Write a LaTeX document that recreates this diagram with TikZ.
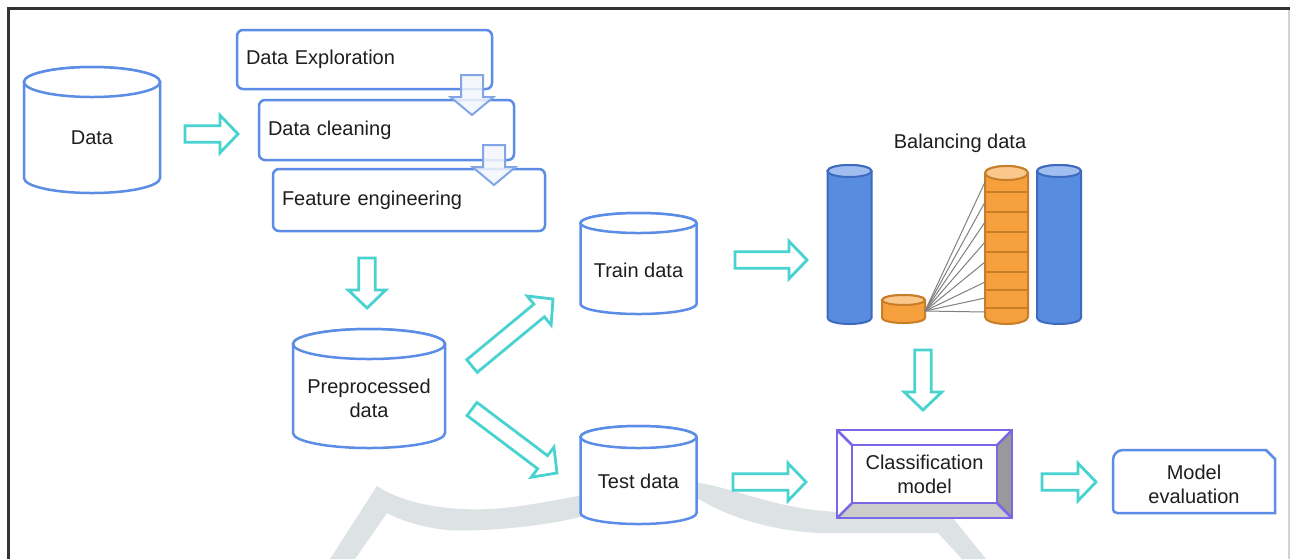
\documentclass[tikz,border=0pt]{standalone}
\usepackage{fontspec}
\setmainfont{Liberation Sans}
\usetikzlibrary{calc}
\definecolor{cylblue}{RGB}{91,141,230}
\definecolor{arrcyan}{RGB}{72,210,208}
\definecolor{wm}{RGB}{221,226,229}
\definecolor{purp}{RGB}{120,104,230}
\definecolor{bfill}{RGB}{88,140,225}
\definecolor{bdark}{RGB}{62,106,190}
\definecolor{btop}{RGB}{160,190,240}
\definecolor{ofill}{RGB}{245,160,60}
\definecolor{odark}{RGB}{200,125,40}
\definecolor{otop}{RGB}{250,200,140}
\definecolor{ltarrow}{RGB}{130,165,230}
\definecolor{ltfill}{RGB}{243,246,251}
\definecolor{txt}{RGB}{30,30,30}
\newcommand\cylshape[7]{%
  \path[#1] (#2-#5,#3) -- (#2-#5,#4) arc[start angle=180,end angle=0,x radius=#5,y radius=#6]
    -- (#2+#5,#3) arc[start angle=0,end angle=-180,x radius=#5,y radius=#6] -- cycle;
  \path[#1,fill=#7] (#2,#3) ellipse[x radius=#5,y radius=#6];
}
\newcommand\blockarr[6]{%
  \coordinate (hb) at ($(#3)!#6!(#2)$);
  \draw[#1] ($(#2)!#4!90:(#3)$) -- ($(hb)!#4!90:(#3)$) -- ($(hb)!#5!90:(#3)$) -- (#3)
    -- ($(hb)!#5!-90:(#3)$) -- ($(hb)!#4!-90:(#3)$) -- ($(#2)!#4!-90:(#3)$) -- cycle;
}
\tikzset{
  lbl/.style={font=\fontsize{10}{12}\selectfont, text=txt, align=center, inner sep=0pt},
  cylout/.style={draw=cylblue, line width=1.25pt, fill=white},
  boxn/.style={draw=cylblue, line width=1.25pt, rounded corners=3pt, fill=white,
    font=\fontsize{10}{12}\selectfont, text=txt, align=left, inner xsep=4.5pt},
  carrow/.style={draw=arrcyan, line width=1.4pt, fill=white, line join=miter},
  larrow/.style={draw=ltarrow, line width=1pt, fill=ltfill, fill opacity=0.85, line join=miter},
  bluecyl/.style={draw=bdark, line width=1pt, fill=bfill},
  orcyl/.style={draw=odark, line width=1pt, fill=ofill},
  fanline/.style={draw=gray, line width=0.5pt},
  purpline/.style={draw=purp, line width=1.25pt},
}
\begin{document}
\begin{tikzpicture}[x=0.5pt,y=-0.5pt]
\useasboundingbox (0,0) rectangle (1290,559);
\fill[white] (0,0) rectangle (1290,559);
% frame
\draw[gray!35, line width=1pt] (1289,10) -- (1289,559);
\draw[black!80, line width=1.5pt] (8,559) -- (8,8) -- (1290,8);
% watermark
\fill[wm] (330,559) -- (377,486) .. controls (405,505) and (460,515) .. (520,506)
  .. controls (600,494) and (660,476) .. (700,483) .. controls (740,490) and (780,510) .. (840,512)
  -- (948,512) -- (986,559) -- (962,559) -- (938,533) -- (820,533)
  .. controls (760,530) and (720,512) .. (697,498) .. controls (660,480) and (610,508) .. (580,517)
  .. controls (540,527) and (480,532) .. (447,530) .. controls (420,527) and (400,520) .. (387,513)
  -- (355,559) -- cycle;
% cylinders
\cylshape{cylout}{92}{82}{178}{68}{15}{white}
\node[lbl] (data) at (92,138) {Data};
\cylshape{cylout}{369}{344}{433}{76}{15}{white}
\node[lbl] (prep) at (369,398) {Preprocessed\\data};
\cylshape{cylout}{638.5}{223}{304}{58}{10}{white}
\node[lbl] (train) at (638.5,270) {Train data};
\cylshape{cylout}{638.5}{437}{513}{58}{11}{white}
\node[lbl] (test) at (638.5,481) {Test data};
% process boxes
\node[boxn, minimum width=127.5pt, minimum height=29.5pt, text width=118.5pt] (expl) at (364.5,59.5) {Data Exploration};
\node[boxn, minimum width=127.5pt, minimum height=30pt, text width=118.5pt] (clean) at (386.5,130) {Data cleaning};
\node[boxn, minimum width=136pt, minimum height=31pt, text width=127pt] (feat) at (409,200) {Feature engineering};
\coordinate (la1) at (472,75); \coordinate (lb1) at (472,115);
\coordinate (la2) at (494,145); \coordinate (lb2) at (494,185);
\blockarr{larrow}{la1}{lb1}{5.5pt}{10.75pt}{9pt}
\blockarr{larrow}{la2}{lb2}{5.5pt}{10.75pt}{9pt}
% balancing
\node[lbl] (baltitle) at (960,143) {Balancing data};
\cylshape{bluecyl}{849.5}{171}{318}{22}{6}{btop}
\cylshape{bluecyl}{1059}{171}{318}{22}{6}{btop}
\cylshape{orcyl}{903.5}{300}{318}{21.5}{5}{otop}
\cylshape{orcyl}{1006.5}{173}{317}{21.5}{7}{otop}
\foreach \yy in {192,212,232,252,272,290,308}
  \draw[odark, line width=1pt] (985,\yy) -- (1028,\yy);
\coordinate (fo) at (925,311);
\foreach \yy [count=\i] in {182,202,222,242,262,282,298,312}{
  \coordinate (st\i) at (985,\yy);
  \draw[fanline] (fo) -- (st\i);
}
% classification box
\fill[white] (837,430) rectangle (1012,518);
\fill[gray!80] (997,445) -- (1012,430) -- (1012,518) -- (997,503) -- cycle;
\fill[gray!40] (852,503) -- (997,503) -- (1012,518) -- (837,518) -- cycle;
\draw[purpline] (837,430) rectangle (1012,518);
\draw[purpline] (852,445) rectangle (997,503);
\draw[purpline] (837,430) -- (852,445) (1012,430) -- (997,445) (837,518) -- (852,503) (1012,518) -- (997,503);
\node[lbl] (cls) at (924.5,474.5) {Classification\\model};
% model evaluation
\draw[draw=cylblue, line width=1.25pt, fill=white] (1275,513) [rounded corners=2pt] -- (1113,513) [rounded corners=5pt] -- (1113,450) [sharp corners] -- (1266,450) -- (1275,459) -- cycle;
\node[lbl] (eval) at (1194,484) {Model\\evaluation};
% cyan block arrows
\coordinate (a1) at (185,134); \coordinate (b1) at (238,134);
\coordinate (a2) at (367,258); \coordinate (b2) at (367,308);
\coordinate (a3) at (472,366); \coordinate (b3) at (553,299);
\coordinate (a4) at (472,409); \coordinate (b4) at (557,473);
\coordinate (a5) at (735,260); \coordinate (b5) at (807,260);
\coordinate (a6) at (733,482); \coordinate (b6) at (806,482);
\coordinate (a7) at (923,350); \coordinate (b7) at (923,410);
\coordinate (a8) at (1042,482); \coordinate (b8) at (1096,482);
\foreach \k in {1,...,8}{\blockarr{carrow}{a\k}{b\k}{4.1pt}{9.4pt}{9pt}}
\end{tikzpicture}
\end{document}
